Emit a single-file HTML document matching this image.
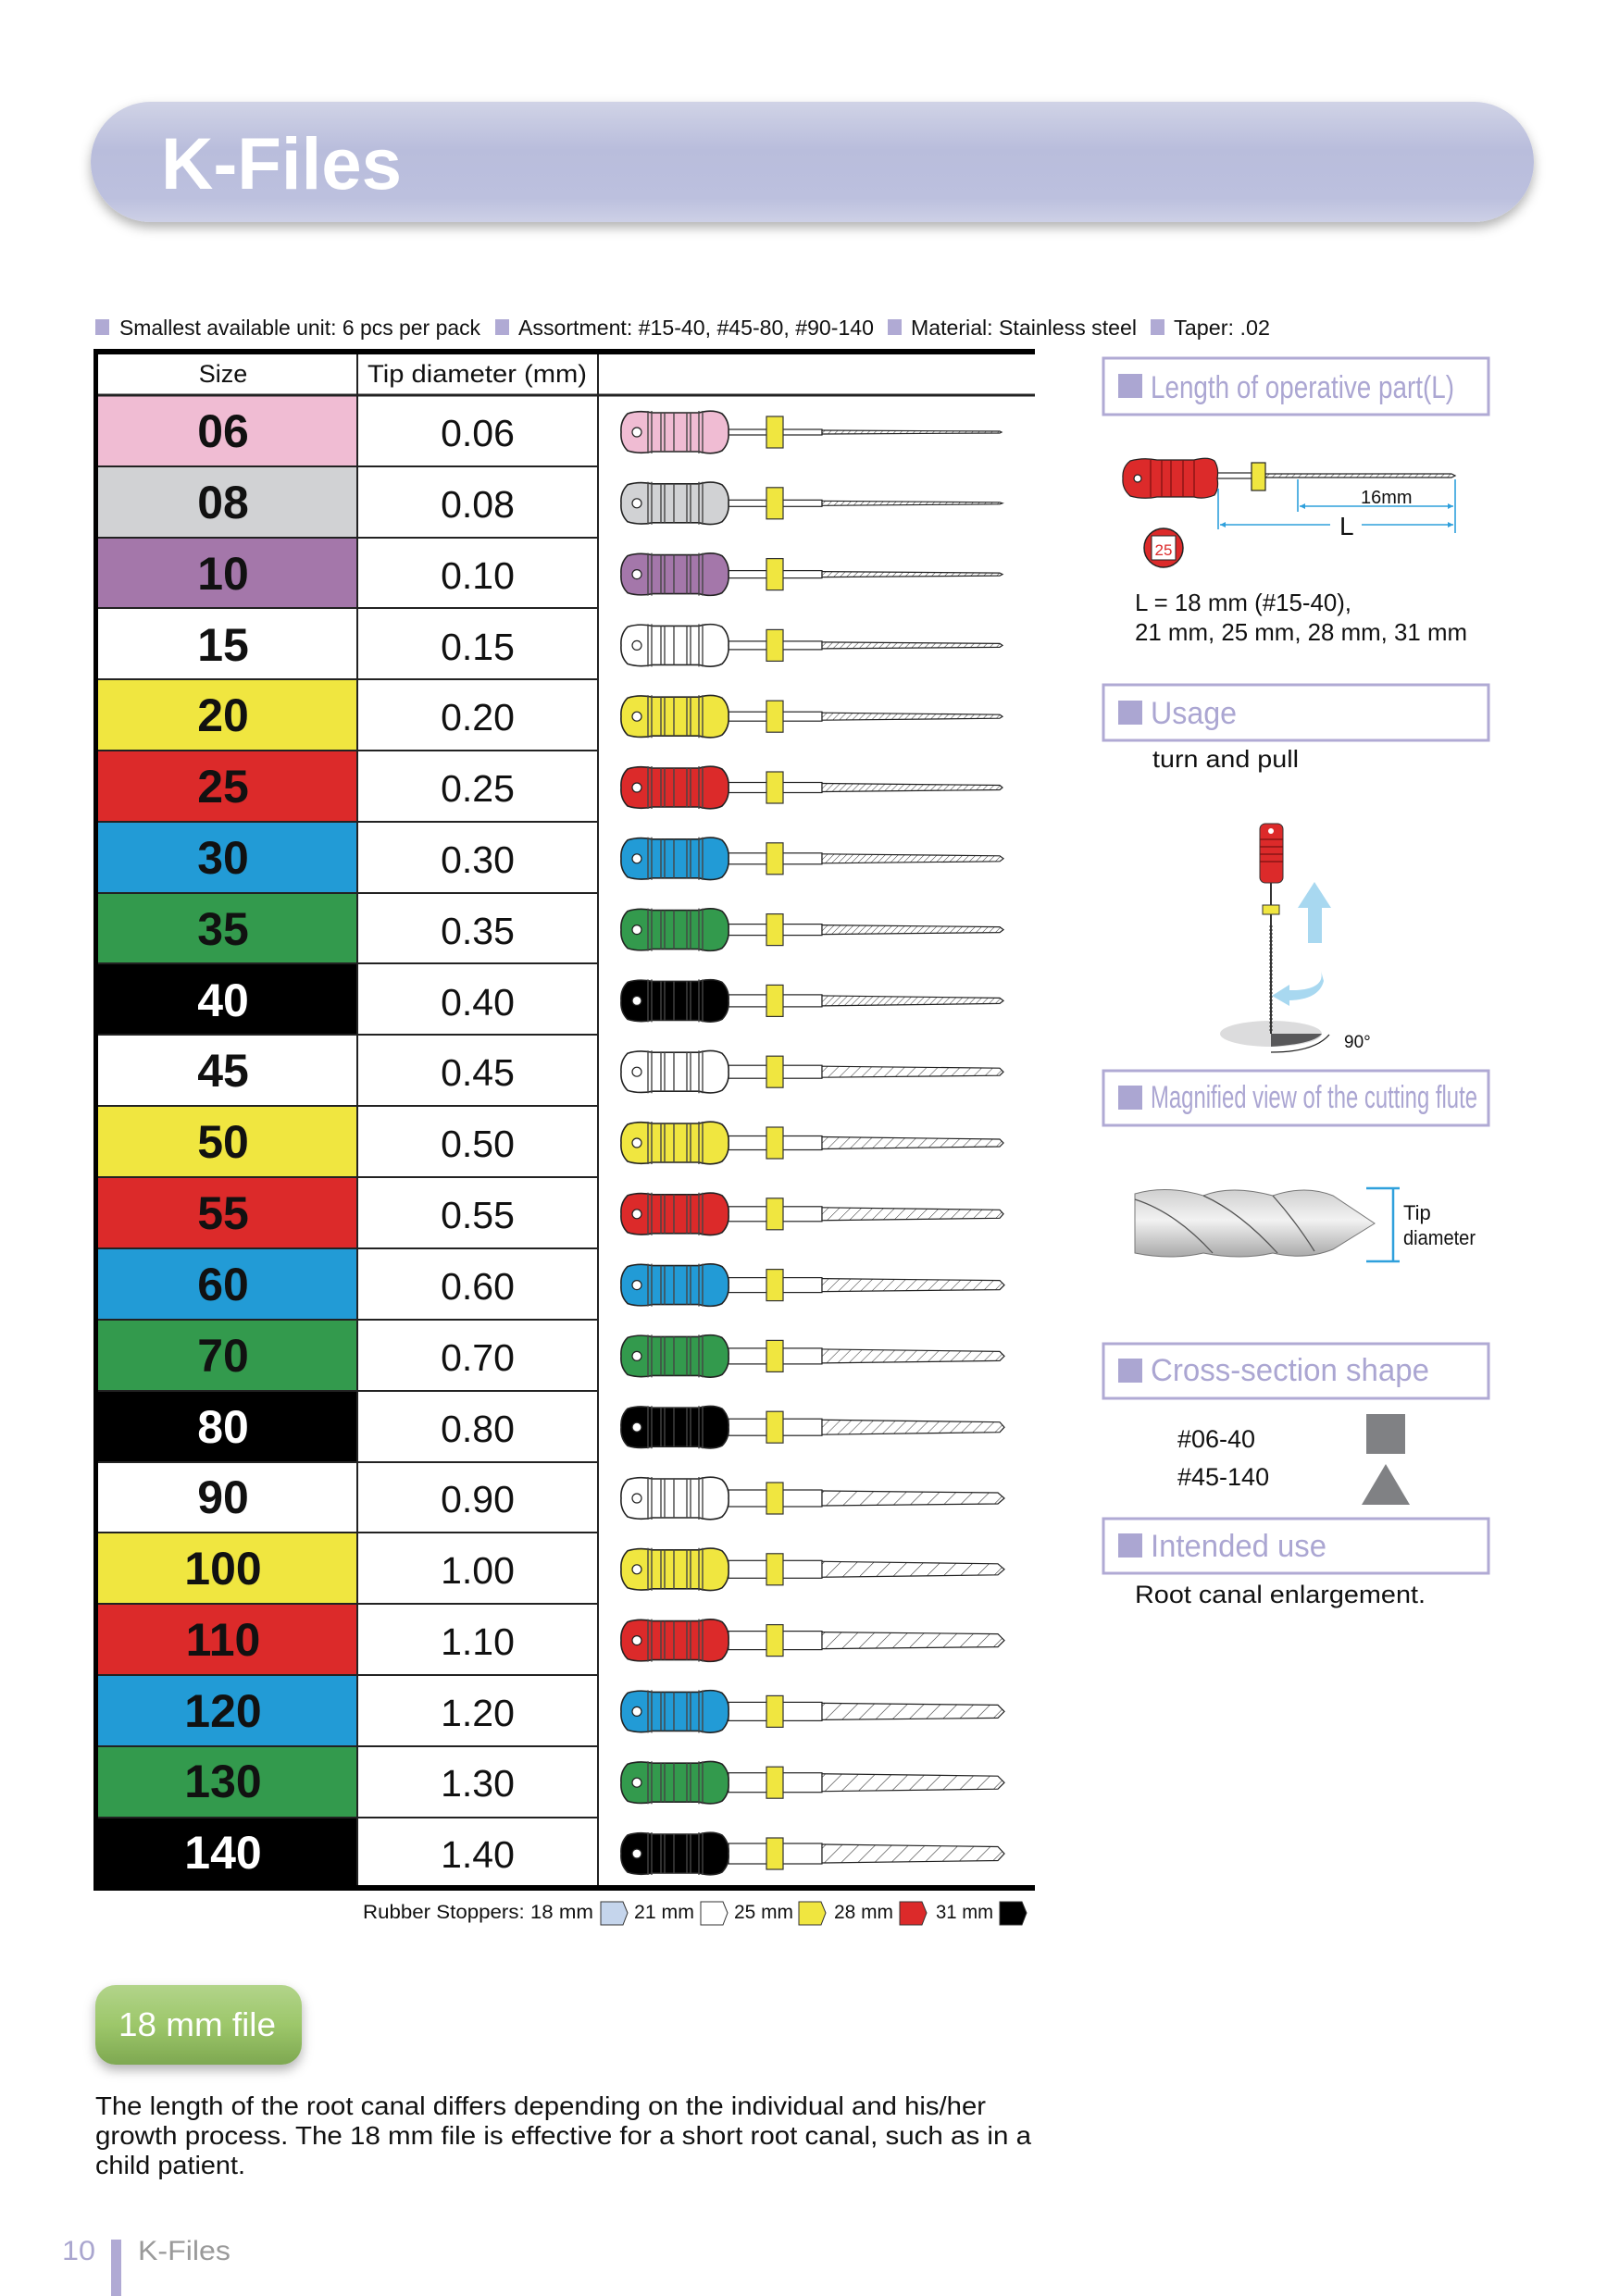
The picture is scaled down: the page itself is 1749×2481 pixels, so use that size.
<!DOCTYPE html>
<html><head><meta charset="utf-8"><style>
html,body{margin:0;padding:0;background:#fff;}
svg{display:block;font-family:"Liberation Sans",sans-serif;}
</style></head><body>
<svg width="1749" height="2481" viewBox="0 0 1749 2481" xmlns="http://www.w3.org/2000/svg">
<defs>
<linearGradient id="pill" x1="0" y1="0" x2="0" y2="1">
<stop offset="0" stop-color="#d0d3e6"/><stop offset="0.4" stop-color="#b9bddc"/><stop offset="0.8" stop-color="#bcc0de"/><stop offset="1" stop-color="#cdd0e6"/></linearGradient>
<linearGradient id="grn" x1="0" y1="0" x2="0" y2="1">
<stop offset="0" stop-color="#b2d48a"/><stop offset="0.5" stop-color="#9dc76a"/><stop offset="1" stop-color="#7ea851"/></linearGradient>
<filter id="sh" x="-10%" y="-20%" width="120%" height="150%"><feDropShadow dx="0" dy="6" stdDeviation="6" flood-color="#000" flood-opacity="0.3"/></filter>
<pattern id="fp" width="7" height="40" patternUnits="userSpaceOnUse" patternTransform="skewX(-45)"><rect width="7" height="40" fill="#fff"/><line x1="0" y1="0" x2="0" y2="40" stroke="#222" stroke-width="1.3"/></pattern>
<pattern id="fp2" width="12" height="40" patternUnits="userSpaceOnUse" patternTransform="skewX(-45)"><rect width="12" height="40" fill="#fff"/><line x1="0" y1="0" x2="0" y2="40" stroke="#222" stroke-width="1.3"/></pattern>
<pattern id="fp3" width="18" height="40" patternUnits="userSpaceOnUse" patternTransform="skewX(-45)"><rect width="18" height="40" fill="#fff"/><line x1="0" y1="0" x2="0" y2="40" stroke="#222" stroke-width="1.5"/></pattern>
<linearGradient id="met" x1="0" y1="0" x2="0" y2="1"><stop offset="0" stop-color="#cfcfcf"/><stop offset="0.45" stop-color="#f2f2f2"/><stop offset="1" stop-color="#a9a9a9"/></linearGradient>
<g id="hd">
<path d="M678,-20 Q690,-24 705,-21 L755,-21 Q770,-25 780,-20 Q788,-12 787,0 Q788,12 780,20 Q770,25 755,21 L705,21 Q690,24 678,20 Q670,12 671,0 Q670,-12 678,-20 Z" fill="currentColor" stroke="#222" stroke-width="1.6"/>
<g stroke="#444" stroke-width="1.4" fill="none">
<path d="M700,-23 V23 M704,-23 V23 M714,-21 V21 M718,-21 V21 M728,-21 V21 M742,-21 V21 M746,-21 V21 M755,-23 V23 M759,-23 V23"/></g>
<circle cx="688" cy="0" r="5" fill="#fff" stroke="#222" stroke-width="1.2"/>
<rect x="828" y="-17" width="18" height="34" fill="#f0e640" stroke="#333" stroke-width="1.2"/>
</g>
</defs>

<!-- header pill -->
<rect x="98" y="110" width="1559" height="130" rx="65" fill="url(#pill)" filter="url(#sh)"/>
<text x="174" y="204" font-size="79" font-weight="bold" fill="#fff" textLength="260" lengthAdjust="spacingAndGlyphs">K-Files</text>

<!-- info line -->
<g font-size="23" fill="#111">
<rect x="103" y="345" width="15" height="17" fill="#b0aad4"/>
<text x="129" y="362" textLength="390" lengthAdjust="spacingAndGlyphs">Smallest available unit: 6 pcs per pack</text>
<rect x="535" y="345" width="15" height="17" fill="#b0aad4"/>
<text x="560" y="362" textLength="384" lengthAdjust="spacingAndGlyphs">Assortment: #15-40, #45-80, #90-140</text>
<rect x="959" y="345" width="15" height="17" fill="#b0aad4"/>
<text x="984" y="362" textLength="244" lengthAdjust="spacingAndGlyphs">Material: Stainless steel</text>
<rect x="1243" y="345" width="15" height="17" fill="#b0aad4"/>
<text x="1268" y="362" textLength="104" lengthAdjust="spacingAndGlyphs">Taper: .02</text>
</g>

<!-- table backgrounds -->
<g>
<rect x="105" y="427" width="281" height="77" fill="#f0bcd3"/>
<rect x="105" y="504" width="281" height="77" fill="#d1d2d4"/>
<rect x="105" y="581" width="281" height="77" fill="#a477aa"/>
<rect x="105" y="734" width="281" height="77" fill="#f0e640"/>
<rect x="105" y="811" width="281" height="77" fill="#dc2a2a"/>
<rect x="105" y="888" width="281" height="77" fill="#229bd6"/>
<rect x="105" y="965" width="281" height="77" fill="#339a4d"/>
<rect x="105" y="1041" width="281" height="77" fill="#000"/>
<rect x="105" y="1195" width="281" height="77" fill="#f0e640"/>
<rect x="105" y="1272" width="281" height="77" fill="#dc2a2a"/>
<rect x="105" y="1349" width="281" height="77" fill="#229bd6"/>
<rect x="105" y="1426" width="281" height="77" fill="#339a4d"/>
<rect x="105" y="1503" width="281" height="77" fill="#000"/>
<rect x="105" y="1656" width="281" height="77" fill="#f0e640"/>
<rect x="105" y="1733" width="281" height="77" fill="#dc2a2a"/>
<rect x="105" y="1810" width="281" height="77" fill="#229bd6"/>
<rect x="105" y="1887" width="281" height="77" fill="#339a4d"/>
<rect x="105" y="1964" width="281" height="76" fill="#000"/>
</g>
<!-- table lines -->
<g stroke="#222" stroke-width="2">
<line x1="105" y1="504" x2="646" y2="504"/><line x1="105" y1="581" x2="646" y2="581"/>
<line x1="105" y1="657" x2="646" y2="657"/><line x1="105" y1="734" x2="646" y2="734"/>
<line x1="105" y1="811" x2="646" y2="811"/><line x1="105" y1="888" x2="646" y2="888"/>
<line x1="105" y1="965" x2="646" y2="965"/><line x1="105" y1="1041" x2="646" y2="1041"/>
<line x1="105" y1="1118" x2="646" y2="1118"/><line x1="105" y1="1195" x2="646" y2="1195"/>
<line x1="105" y1="1272" x2="646" y2="1272"/><line x1="105" y1="1349" x2="646" y2="1349"/>
<line x1="105" y1="1426" x2="646" y2="1426"/><line x1="105" y1="1503" x2="646" y2="1503"/>
<line x1="105" y1="1580" x2="646" y2="1580"/><line x1="105" y1="1656" x2="646" y2="1656"/>
<line x1="105" y1="1733" x2="646" y2="1733"/><line x1="105" y1="1810" x2="646" y2="1810"/>
<line x1="105" y1="1887" x2="646" y2="1887"/><line x1="105" y1="1964" x2="646" y2="1964"/>
<line x1="386" y1="380" x2="386" y2="2040"/><line x1="646" y1="380" x2="646" y2="2040"/>
<line x1="105" y1="427" x2="1118" y2="427" stroke-width="3"/>
</g>
<rect x="101" y="377" width="1017" height="6" fill="#000"/>
<rect x="101" y="377" width="5" height="1665" fill="#000"/>
<rect x="101" y="2037" width="1017" height="6" fill="#000"/>

<text x="241" y="413" font-size="27" text-anchor="middle" fill="#111">Size</text>
<text x="397" y="413" font-size="27" fill="#111" textLength="237" lengthAdjust="spacingAndGlyphs">Tip diameter (mm)</text>

<!-- size labels -->
<g font-size="50" font-weight="bold" text-anchor="middle" fill="#111">
<text x="241" y="483">06</text><text x="241" y="560">08</text><text x="241" y="637">10</text>
<text x="241" y="714">15</text><text x="241" y="790">20</text><text x="241" y="867">25</text>
<text x="241" y="944">30</text><text x="241" y="1021">35</text><text x="241" y="1098" fill="#fff">40</text>
<text x="241" y="1174">45</text><text x="241" y="1251">50</text><text x="241" y="1328">55</text>
<text x="241" y="1405">60</text><text x="241" y="1482">70</text><text x="241" y="1559" fill="#fff">80</text>
<text x="241" y="1635">90</text><text x="241" y="1712">100</text><text x="241" y="1789">110</text>
<text x="241" y="1866">120</text><text x="241" y="1942">130</text><text x="241" y="2019" fill="#fff">140</text>
</g>
<g font-size="41" text-anchor="middle" fill="#111">
<text x="516" y="482">0.06</text><text x="516" y="559">0.08</text><text x="516" y="636">0.10</text>
<text x="516" y="713">0.15</text><text x="516" y="789">0.20</text><text x="516" y="866">0.25</text>
<text x="516" y="943">0.30</text><text x="516" y="1020">0.35</text><text x="516" y="1097">0.40</text>
<text x="516" y="1173">0.45</text><text x="516" y="1250">0.50</text><text x="516" y="1327">0.55</text>
<text x="516" y="1404">0.60</text><text x="516" y="1481">0.70</text><text x="516" y="1558">0.80</text>
<text x="516" y="1634">0.90</text><text x="516" y="1711">1.00</text><text x="516" y="1788">1.10</text>
<text x="516" y="1865">1.20</text><text x="516" y="1941">1.30</text><text x="516" y="2018">1.40</text>
</g>

<!-- files -->
<g stroke="#222" stroke-width="1.2">
<g transform="translate(0,467)" color="#f0bcd3"><rect x="787" y="-3" width="101" height="6" fill="#fff"/><polygon points="888,-2 1080,-1 1082,0 1080,1 888,2" fill="url(#fp)"/><use href="#hd"/></g>
<g transform="translate(0,543.8)" color="#d1d2d4"><rect x="787" y="-3.5" width="101" height="7" fill="#fff"/><polygon points="888,-2.5 1080,-1 1083,0 1080,1 888,2.5" fill="url(#fp)"/><use href="#hd"/></g>
<g transform="translate(0,620.6)" color="#a477aa"><rect x="787" y="-4" width="101" height="8" fill="#fff"/><polygon points="888,-3 1080,-1.5 1083,0 1080,1.5 888,3" fill="url(#fp)"/><use href="#hd"/></g>
<g transform="translate(0,697.4)" color="#ffffff"><rect x="787" y="-4.5" width="101" height="9" fill="#fff"/><polygon points="888,-3.5 1080,-2 1083,0 1080,2 888,3.5" fill="url(#fp)"/><use href="#hd"/></g>
<g transform="translate(0,774.2)" color="#f0e640"><rect x="787" y="-5" width="101" height="10" fill="#fff"/><polygon points="888,-4 1080,-2 1083,0 1080,2 888,4" fill="url(#fp)"/><use href="#hd"/></g>
<g transform="translate(0,851)" color="#dc2a2a"><rect x="787" y="-5.5" width="101" height="11" fill="#fff"/><polygon points="888,-4.5 1080,-2.5 1083,0 1080,2.5 888,4.5" fill="url(#fp)"/><use href="#hd"/></g>
<g transform="translate(0,927.8)" color="#229bd6"><rect x="787" y="-6" width="101" height="12" fill="#fff"/><polygon points="888,-5 1080,-3 1084,0 1080,3 888,5" fill="url(#fp)"/><use href="#hd"/></g>
<g transform="translate(0,1004.6)" color="#339a4d"><rect x="787" y="-6" width="101" height="12" fill="#fff"/><polygon points="888,-5 1080,-3 1084,0 1080,3 888,5" fill="url(#fp)"/><use href="#hd"/></g>
<g transform="translate(0,1081.4)" color="#000"><rect x="787" y="-6.5" width="101" height="13" fill="#fff"/><polygon points="888,-5.5 1080,-3 1084,0 1080,3 888,5.5" fill="url(#fp)"/><use href="#hd"/></g>
<g transform="translate(0,1158.2)" color="#ffffff"><rect x="787" y="-7" width="101" height="14" fill="#fff"/><polygon points="888,-6 1080,-4 1084,0 1080,4 888,6" fill="url(#fp2)"/><use href="#hd"/></g>
<g transform="translate(0,1235)" color="#f0e640"><rect x="787" y="-7.5" width="101" height="15" fill="#fff"/><polygon points="888,-6.5 1080,-4 1084,0 1080,4 888,6.5" fill="url(#fp2)"/><use href="#hd"/></g>
<g transform="translate(0,1311.8)" color="#dc2a2a"><rect x="787" y="-8" width="101" height="16" fill="#fff"/><polygon points="888,-7 1080,-4.5 1084,0 1080,4.5 888,7" fill="url(#fp2)"/><use href="#hd"/></g>
<g transform="translate(0,1388.6)" color="#229bd6"><rect x="787" y="-8" width="101" height="16" fill="#fff"/><polygon points="888,-7 1080,-5 1085,0 1080,5 888,7" fill="url(#fp2)"/><use href="#hd"/></g>
<g transform="translate(0,1465.4)" color="#339a4d"><rect x="787" y="-8.5" width="101" height="17" fill="#fff"/><polygon points="888,-7.5 1080,-5 1085,0 1080,5 888,7.5" fill="url(#fp2)"/><use href="#hd"/></g>
<g transform="translate(0,1542.2)" color="#000"><rect x="787" y="-9" width="101" height="18" fill="#fff"/><polygon points="888,-8 1080,-5.5 1085,0 1080,5.5 888,8" fill="url(#fp2)"/><use href="#hd"/></g>
<g transform="translate(0,1619)" color="#ffffff"><rect x="787" y="-9" width="101" height="18" fill="#fff"/><polygon points="888,-8 1078,-6 1085,0 1078,6 888,8" fill="url(#fp3)"/><use href="#hd"/></g>
<g transform="translate(0,1695.8)" color="#f0e640"><rect x="787" y="-9.5" width="101" height="19" fill="#fff"/><polygon points="888,-8.5 1078,-6 1085,0 1078,6 888,8.5" fill="url(#fp3)"/><use href="#hd"/></g>
<g transform="translate(0,1772.6)" color="#dc2a2a"><rect x="787" y="-10" width="101" height="20" fill="#fff"/><polygon points="888,-9 1078,-7 1085,0 1078,7 888,9" fill="url(#fp3)"/><use href="#hd"/></g>
<g transform="translate(0,1849.4)" color="#229bd6"><rect x="787" y="-10" width="101" height="20" fill="#fff"/><polygon points="888,-9 1078,-7 1085,0 1078,7 888,9" fill="url(#fp3)"/><use href="#hd"/></g>
<g transform="translate(0,1926.2)" color="#339a4d"><rect x="787" y="-10.5" width="101" height="21" fill="#fff"/><polygon points="888,-9.5 1078,-7 1085,0 1078,7 888,9.5" fill="url(#fp3)"/><use href="#hd"/></g>
<g transform="translate(0,2003)" color="#000"><rect x="787" y="-11" width="101" height="22" fill="#fff"/><polygon points="888,-10 1078,-7.5 1085,0 1078,7.5 888,10" fill="url(#fp3)"/><use href="#hd"/></g>
</g>

<!-- rubber stoppers -->
<g font-size="21" fill="#111">
<text x="392" y="2073" textLength="249" lengthAdjust="spacingAndGlyphs">Rubber Stoppers: 18 mm</text>
<text x="685" y="2073" textLength="65" lengthAdjust="spacingAndGlyphs">21 mm</text>
<text x="793" y="2073" textLength="64" lengthAdjust="spacingAndGlyphs">25 mm</text>
<text x="901" y="2073" textLength="64" lengthAdjust="spacingAndGlyphs">28 mm</text>
<text x="1011" y="2073" textLength="62" lengthAdjust="spacingAndGlyphs">31 mm</text>
</g>
<g stroke="#333" stroke-width="1">
<path d="M649,2055 H673 L678,2067 L673,2080 H649 Z" fill="#c5d5ec"/>
<path d="M757,2055 H781 L786,2067 L781,2080 H757 Z" fill="#fff"/>
<path d="M863,2055 H887 L892,2067 L887,2080 H863 Z" fill="#f0e640"/>
<path d="M972,2055 H996 L1001,2067 L996,2080 H972 Z" fill="#dc2a2a"/>
<path d="M1080,2055 H1104 L1109,2067 L1104,2080 H1080 Z" fill="#000"/>
</g>

<!-- right column boxes -->
<g fill="none" stroke="#b0aad4" stroke-width="3">
<rect x="1192" y="387" width="416" height="61"/>
<rect x="1192" y="740" width="416" height="60"/>
<rect x="1192" y="1157" width="416" height="59"/>
<rect x="1192" y="1452" width="416" height="59"/>
<rect x="1192" y="1641" width="416" height="59"/>
</g>
<g fill="#aba6d2">
<rect x="1208" y="404" width="26" height="26"/>
<rect x="1208" y="757" width="26" height="26"/>
<rect x="1208" y="1173" width="26" height="26"/>
<rect x="1208" y="1468" width="26" height="26"/>
<rect x="1208" y="1657" width="26" height="26"/>
</g>
<g fill="#aba6d2" font-size="34">
<text x="1243" y="430" textLength="328" lengthAdjust="spacingAndGlyphs">Length of operative part(L)</text>
<text x="1243" y="782" textLength="93" lengthAdjust="spacingAndGlyphs">Usage</text>
<text x="1243" y="1197" textLength="353" lengthAdjust="spacingAndGlyphs">Magnified view of the cutting flute</text>
<text x="1243" y="1492" textLength="301" lengthAdjust="spacingAndGlyphs">Cross-section shape</text>
<text x="1243" y="1682" textLength="190" lengthAdjust="spacingAndGlyphs">Intended use</text>
</g>

<!-- length diagram -->
<g stroke="#222" stroke-width="1.2">
<rect x="1315" y="511" width="40" height="6" fill="#fff"/>
<polygon points="1367,512 1568,512 1572,514 1568,516 1367,516" fill="url(#fp)"/>
<path d="M1221,498 Q1235,494 1250,497 L1290,497 Q1305,493 1312,498 Q1317,506 1315,517 Q1317,528 1312,535 Q1300,540 1290,537 L1250,537 Q1235,540 1221,536 Q1212,528 1213,517 Q1212,505 1221,498 Z" fill="#dc2a2a"/>
<path d="M1243,497 V537 M1255,497 V537 M1265,497 V537 M1278,497 V537 M1290,497 V537" fill="none" stroke="#7a1010"/>
<circle cx="1229" cy="517" r="4" fill="#fff"/>
<rect x="1352" y="500" width="15" height="30" fill="#f0e640"/>
</g>
<g stroke="#2fa0dc" stroke-width="1.6" fill="#2fa0dc">
<line x1="1316" y1="528" x2="1316" y2="572"/>
<line x1="1402" y1="518" x2="1402" y2="553"/>
<line x1="1572" y1="518" x2="1572" y2="576"/>
<line x1="1404" y1="547" x2="1570" y2="547"/>
<line x1="1318" y1="567" x2="1437" y2="567"/>
<line x1="1471" y1="567" x2="1570" y2="567"/>
<path d="M1404,547 l6,-3 v6 Z M1570,547 l-6,-3 v6 Z M1318,567 l6,-3 v6 Z M1570,567 l-6,-3 v6 Z" stroke="none"/>
</g>
<text x="1470" y="544" font-size="20" fill="#111">16mm</text>
<text x="1447" y="578" font-size="28" fill="#111">L</text>
<circle cx="1257" cy="592" r="21" fill="#dc2a2a" stroke="#222" stroke-width="1.5"/>
<rect x="1244" y="579" width="26" height="26" fill="#fff" stroke="#222" stroke-width="1"/>
<text x="1257" y="600" font-size="17" fill="#dc2a2a" text-anchor="middle">25</text>
<g font-size="26" fill="#111">
<text x="1226" y="660" textLength="234" lengthAdjust="spacingAndGlyphs">L = 18 mm (#15-40),</text>
<text x="1226" y="692" textLength="359" lengthAdjust="spacingAndGlyphs">21 mm, 25 mm, 28 mm, 31 mm</text>
<text x="1245" y="829" textLength="158" lengthAdjust="spacingAndGlyphs">turn and pull</text>
</g>

<!-- usage diagram -->
<ellipse cx="1373" cy="1117" rx="55" ry="14" fill="#dcdcdd"/>
<path d="M1373,1117 H1428 Q1420,1128 1373,1131 Z" fill="#58585a"/>
<path d="M1373,1137 Q1420,1137 1436,1118" fill="none" stroke="#222" stroke-width="1.3"/>
<line x1="1373" y1="954" x2="1373" y2="1117" stroke="#333" stroke-width="2"/>
<line x1="1373" y1="1000" x2="1373" y2="1115" stroke="#333" stroke-width="3" stroke-dasharray="2,2"/>
<rect x="1364" y="978" width="18" height="10" fill="#f0e640" stroke="#333" stroke-width="1"/>
<rect x="1361" y="890" width="25" height="64" rx="6" fill="#dc2a2a" stroke="#333" stroke-width="1"/>
<path d="M1361,907 H1386 M1361,915 H1386 M1361,923 H1386 M1361,931 H1386" stroke="#7a1010" stroke-width="1.2"/>
<circle cx="1373" cy="898" r="3" fill="#fff"/>
<path d="M1413,1019 V981 H1402 L1420,953 L1438,981 H1428 V1019 Z" fill="#a8d8f0"/>
<path d="M1427,1049 Q1432,1068 1400,1070 L1393,1070 L1393,1064 L1374,1076 L1393,1087 L1393,1081 Q1425,1080 1430,1060 Z" fill="#a8d8f0"/>
<text x="1452" y="1132" font-size="19" fill="#111">90°</text>

<!-- magnified flute -->
<path d="M1226,1290 Q1260,1280 1300,1292 Q1330,1280 1375,1292 Q1410,1280 1440,1292 L1485,1322 L1440,1350 Q1410,1362 1375,1354 Q1340,1362 1300,1354 Q1265,1362 1226,1354 Z" fill="url(#met)" stroke="#777" stroke-width="1"/>
<path d="M1226,1296 Q1270,1310 1310,1354 M1300,1292 Q1340,1310 1380,1354 M1375,1292 Q1400,1320 1420,1352" fill="none" stroke="#555" stroke-width="1.3"/>
<g stroke="#2fa0dc" stroke-width="2.5"><line x1="1476" y1="1284" x2="1512" y2="1284"/><line x1="1476" y1="1363" x2="1512" y2="1363"/><line x1="1505" y1="1284" x2="1505" y2="1363"/></g>
<text x="1516" y="1318" font-size="22" fill="#111">Tip</text>
<text x="1516" y="1345" font-size="22" fill="#111" textLength="78" lengthAdjust="spacingAndGlyphs">diameter</text>

<!-- cross-section -->
<text x="1272" y="1564" font-size="27" fill="#111">#06-40</text>
<text x="1272" y="1605" font-size="27" fill="#111">#45-140</text>
<rect x="1476" y="1528" width="42" height="43" fill="#808184"/>
<polygon points="1471,1626 1497,1582 1523,1626" fill="#808184"/>
<text x="1226" y="1732" font-size="27" fill="#111" textLength="314" lengthAdjust="spacingAndGlyphs">Root canal enlargement.</text>

<!-- 18mm button -->
<rect x="103" y="2145" width="223" height="86" rx="22" fill="url(#grn)" filter="url(#sh)"/>
<text x="128" y="2200" font-size="36" fill="#fff" textLength="170" lengthAdjust="spacingAndGlyphs">18 mm file</text>

<g font-size="28" fill="#111">
<text x="103" y="2285" textLength="962" lengthAdjust="spacingAndGlyphs">The length of the root canal differs depending on the individual and his/her</text>
<text x="103" y="2317" textLength="1011" lengthAdjust="spacingAndGlyphs">growth process.  The 18 mm file is effective for a short root canal, such as in a</text>
<text x="103" y="2349" textLength="162" lengthAdjust="spacingAndGlyphs">child patient.</text>
</g>

<!-- footer -->
<text x="67" y="2442" font-size="30" fill="#aaa6cf" textLength="36" lengthAdjust="spacingAndGlyphs">10</text>
<rect x="120" y="2420" width="11" height="61" fill="#b0aad4"/>
<text x="149" y="2442" font-size="30" fill="#9a9a9a" textLength="100" lengthAdjust="spacingAndGlyphs">K-Files</text>
</svg>
</body></html>
